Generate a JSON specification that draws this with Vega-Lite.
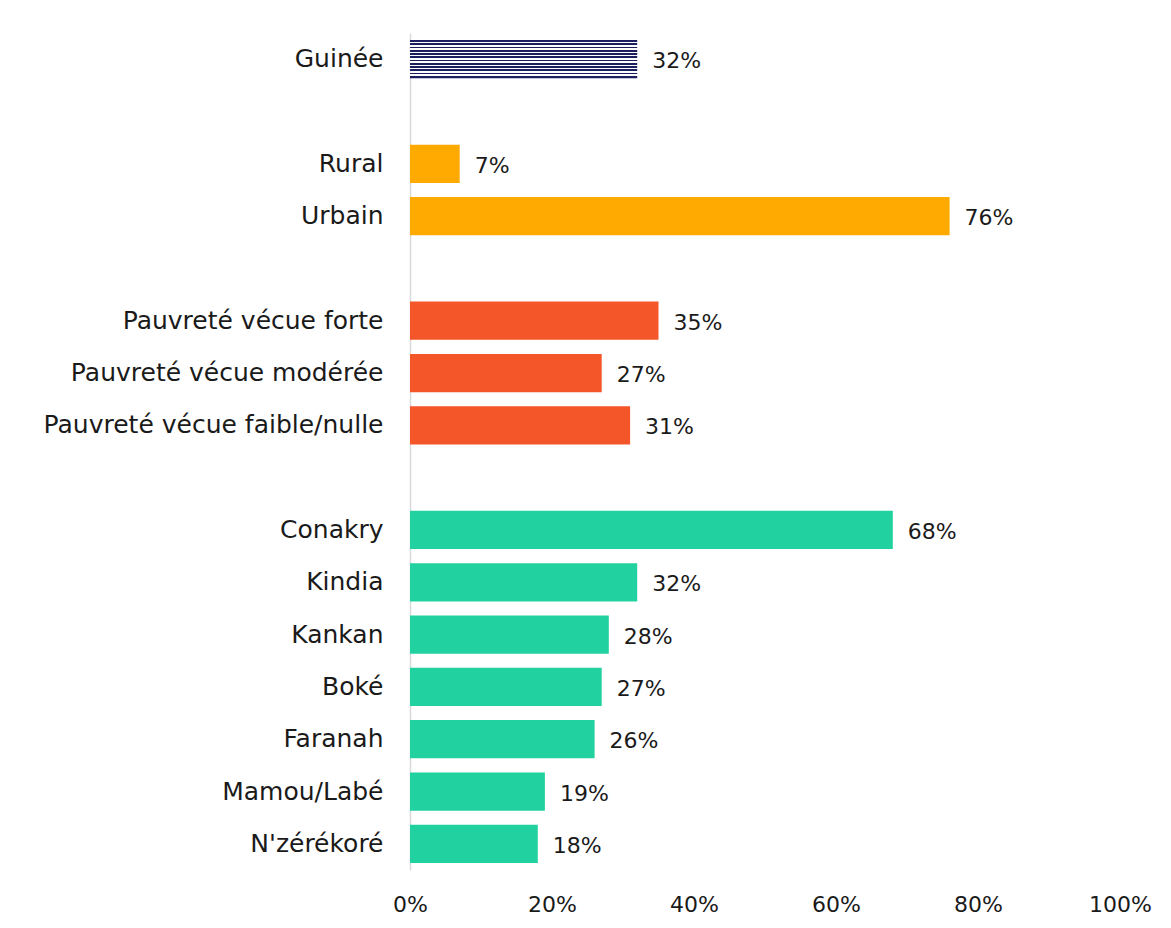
{
  "$schema": "https://vega.github.io/schema/vega-lite/v6.json",
  "width": 710,
  "height": 837,
  "autosize": {"type": "none"},
  "padding": {"left": 410, "top": 33, "right": 51, "bottom": 58},
  "background": "white",
  "config": {"view": {"stroke": null}, "font": "DejaVu Sans"},
  "data": {"values": [
    {"cat": "Guinée", "val": 0.32, "grp": "Guinée"},
    {"cat": "Rural", "val": 0.07, "grp": "Milieu"},
    {"cat": "Urbain", "val": 0.76, "grp": "Milieu"},
    {"cat": "Pauvreté vécue forte", "val": 0.35, "grp": "Pauvreté"},
    {"cat": "Pauvreté vécue modérée", "val": 0.27, "grp": "Pauvreté"},
    {"cat": "Pauvreté vécue faible/nulle", "val": 0.31, "grp": "Pauvreté"},
    {"cat": "Conakry", "val": 0.68, "grp": "Région"},
    {"cat": "Kindia", "val": 0.32, "grp": "Région"},
    {"cat": "Kankan", "val": 0.28, "grp": "Région"},
    {"cat": "Boké", "val": 0.27, "grp": "Région"},
    {"cat": "Faranah", "val": 0.26, "grp": "Région"},
    {"cat": "Mamou/Labé", "val": 0.19, "grp": "Région"},
    {"cat": "N'zérékoré", "val": 0.18, "grp": "Région"}
  ]},
  "encoding": {
    "y": {
      "field": "cat", "type": "nominal",
      "scale": {
        "domain": ["Guinée", "_g1", "Rural", "Urbain", "_g2", "Pauvreté vécue forte", "Pauvreté vécue modérée", "Pauvreté vécue faible/nulle", "_g3", "Conakry", "Kindia", "Kankan", "Boké", "Faranah", "Mamou/Labé", "N'zérékoré"],
        "paddingInner": 0.27, "paddingOuter": 0.135
      },
      "axis": {
        "title": null, "ticks": false, "labelPadding": 27, "labelFontSize": 25,
        "labelColor": "#1a1a1a", "domainColor": "#d9d9d9", "domainWidth": 1.5,
        "labelExpr": "indexof(datum.value, '_g') == 0 ? '' : datum.value", "labelLimit": 500
      }
    },
    "x": {
      "field": "val", "type": "quantitative",
      "scale": {"domain": [0, 1]},
      "axis": {
        "title": null, "format": ".0%", "values": [0, 0.2, 0.4, 0.6, 0.8, 1],
        "grid": false, "domain": false, "ticks": false, "labelPadding": 24,
        "labelFlush": false, "labelOverlap": false,
        "labelFontSize": 22, "labelColor": "#1a1a1a"
      }
    }
  },
  "layer": [
    {
      "transform": [{"filter": "datum.grp != 'Guinée'"}],
      "mark": {"type": "bar"},
      "encoding": {
        "color": {
          "field": "grp", "type": "nominal", "legend": null,
          "scale": {"domain": ["Milieu", "Pauvreté", "Région"], "range": ["#FFAA00", "#F4562A", "#22D1A0"]}
        }
      }
    },
    {
      "transform": [{"filter": "datum.grp == 'Guinée'"}],
      "mark": {
        "type": "bar",
        "fill": {
          "gradient": "linear", "x1": 0, "y1": 0, "x2": 0, "y2": 1,
          "stops": [
            {"offset": 0.00, "color": "#1c1f5e"}, {"offset": 0.05, "color": "#1c1f5e"},
            {"offset": 0.05, "color": "#ffffff"}, {"offset": 0.085, "color": "#ffffff"},
            {"offset": 0.085, "color": "#1c1f5e"}, {"offset": 0.135, "color": "#1c1f5e"},
            {"offset": 0.135, "color": "#ffffff"}, {"offset": 0.17, "color": "#ffffff"},
            {"offset": 0.17, "color": "#1c1f5e"}, {"offset": 0.22, "color": "#1c1f5e"},
            {"offset": 0.22, "color": "#ffffff"}, {"offset": 0.255, "color": "#ffffff"},
            {"offset": 0.255, "color": "#1c1f5e"}, {"offset": 0.305, "color": "#1c1f5e"},
            {"offset": 0.305, "color": "#ffffff"}, {"offset": 0.34, "color": "#ffffff"},
            {"offset": 0.34, "color": "#1c1f5e"}, {"offset": 0.39, "color": "#1c1f5e"},
            {"offset": 0.39, "color": "#ffffff"}, {"offset": 0.425, "color": "#ffffff"},
            {"offset": 0.425, "color": "#1c1f5e"}, {"offset": 0.475, "color": "#1c1f5e"},
            {"offset": 0.475, "color": "#ffffff"}, {"offset": 0.51, "color": "#ffffff"},
            {"offset": 0.51, "color": "#1c1f5e"}, {"offset": 0.56, "color": "#1c1f5e"},
            {"offset": 0.56, "color": "#ffffff"}, {"offset": 0.595, "color": "#ffffff"},
            {"offset": 0.595, "color": "#1c1f5e"}, {"offset": 0.645, "color": "#1c1f5e"},
            {"offset": 0.645, "color": "#ffffff"}, {"offset": 0.68, "color": "#ffffff"},
            {"offset": 0.68, "color": "#1c1f5e"}, {"offset": 0.73, "color": "#1c1f5e"},
            {"offset": 0.73, "color": "#ffffff"}, {"offset": 0.765, "color": "#ffffff"},
            {"offset": 0.765, "color": "#1c1f5e"}, {"offset": 0.815, "color": "#1c1f5e"},
            {"offset": 0.815, "color": "#ffffff"}, {"offset": 0.85, "color": "#ffffff"},
            {"offset": 0.85, "color": "#1c1f5e"}, {"offset": 0.9, "color": "#1c1f5e"},
            {"offset": 0.9, "color": "#ffffff"}, {"offset": 0.935, "color": "#ffffff"},
            {"offset": 0.935, "color": "#1c1f5e"}, {"offset": 1.0, "color": "#1c1f5e"}
          ]
        }
      }
    },
    {
      "mark": {"type": "text", "align": "left", "baseline": "middle", "dx": 15, "dy": 2, "fontSize": 22, "color": "#1a1a1a"},
      "encoding": {"text": {"field": "val", "type": "quantitative", "format": ".0%"}}
    }
  ]
}
